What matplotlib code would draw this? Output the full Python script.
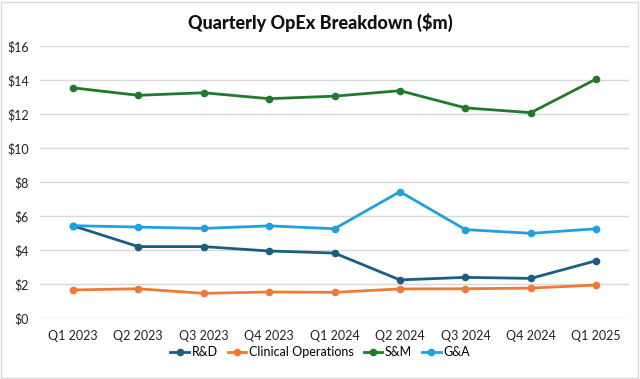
import numpy as np
import matplotlib as mpl
mpl.use('Agg')
import matplotlib.pyplot as plt
from matplotlib.patches import Rectangle

quarters = ['Q1 2023', 'Q2 2023', 'Q3 2023', 'Q4 2023', 'Q1 2024',
            'Q2 2024', 'Q3 2024', 'Q4 2024', 'Q1 2025']
rnd = [5.43, 4.20, 4.20, 3.94, 3.82, 2.24, 2.39, 2.33, 3.37]
clinical = [1.65, 1.72, 1.45, 1.53, 1.51, 1.71, 1.72, 1.76, 1.94]
snm = [13.54, 13.10, 13.25, 12.90, 13.05, 13.37, 12.36, 12.08, 14.06]
gna = [5.43, 5.35, 5.27, 5.42, 5.25, 7.43, 5.20, 4.98, 5.25]
yticks = [0, 2, 4, 6, 8, 10, 12, 14, 16]

plt.rcParams['font.family'] = ['Lato', 'DejaVu Sans']

fig = plt.figure(figsize=(6.4, 3.79), dpi=100)
ax = fig.add_axes([40 / 640, 1 - 318 / 379, 589 / 640, 272 / 379])

x = np.arange(len(quarters))
series = [
    (rnd, 'R&D', '#1b5e83'),
    (clinical, 'Clinical Operations', '#ee7a33'),
    (snm, 'S&M', '#217a2b'),
    (gna, 'G&A', '#1ea2d9'),
]
handles = []
for vals, name, col in series:
    h = ax.plot(x, vals, '-o', color=col, linewidth=2.0, markersize=4.5,
                label=name)[0]
    handles.append(h)

ax.set_xlim(-0.5, len(quarters) - 0.5)
ax.set_ylim(0, 16)
ax.set_yticks(yticks)
ax.set_yticklabels(['$%d' % v for v in yticks])
ax.set_xticks(x)
ax.set_xticklabels(quarters)
ax.tick_params(axis='both', length=0, labelsize=9, colors='#222222')
ax.tick_params(axis='y', pad=8)
ax.tick_params(axis='x', pad=9)
ax.grid(axis='y', color='#d9d9d9', linewidth=1.0)
ax.set_axisbelow(True)
for s in ax.spines.values():
    s.set_visible(False)

fig.text(0.5, 1 - 22 / 379, 'Quarterly OpEx Breakdown ($m)', ha='center',
         va='center', fontsize=13, fontweight='black', color='#111111')

lgd = fig.legend(handles, [h.get_label() for h in handles], ncol=4,
                 loc='center', bbox_to_anchor=(0.5, 1 - 352 / 379),
                 frameon=False, fontsize=9, handlelength=1.5,
                 handletextpad=0.2, columnspacing=0.8)

fig.patches.append(Rectangle((0.002, 0.003), 0.995, 0.993,
                             transform=fig.transFigure, fill=False,
                             edgecolor='#d9d9d9', linewidth=1.0))

plt.savefig('out.png', dpi=100)
